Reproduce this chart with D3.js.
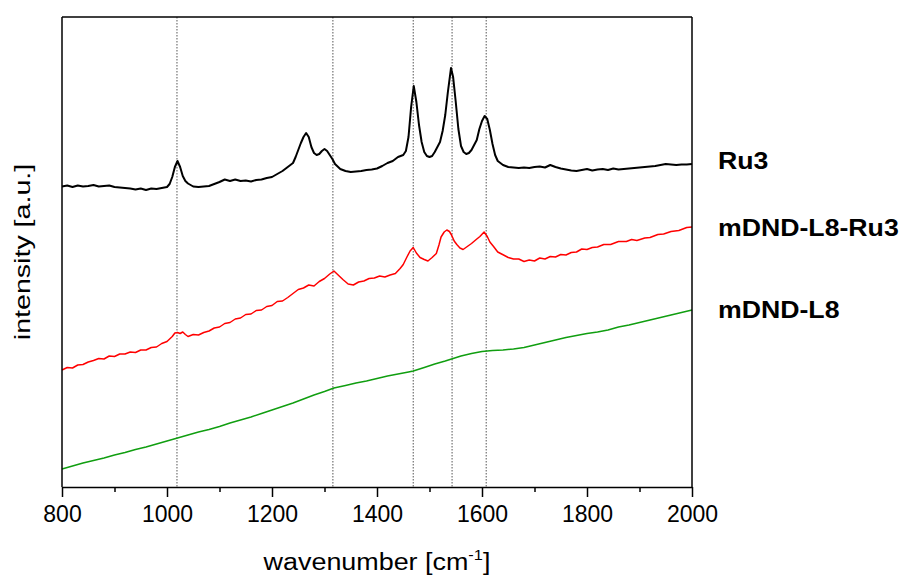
<!DOCTYPE html>
<html>
<head>
<meta charset="utf-8">
<script src="https://cdn.jsdelivr.net/npm/d3@7"></script>
<style>
  html, body { margin: 0; padding: 0; background: #fff; }
  svg { display: block; font-family: "Liberation Sans", Arial, sans-serif; }
</style>
</head>
<body>
<svg id="chart" width="905" height="577"></svg>
<script>
// Raman spectra: Ru3 complex, functionalised nanodiamond with and without Ru3
const seriesNames = ["Ru3", "mDND-L8-Ru3", "mDND-L8"];
const seriesColors = ["#000000", "#ff0000", "#109e10"];

// wavenumber [cm-1] / intensity [a.u.]
const ru3Wn = [800,810,820,830,840,850,860,870,880,890,900,910,920,930,940,950,960,970,980,990,
  1000,1005,1010,1015,1020,1025,1030,1035,1040,1050,1060,1070,1080,1090,1100,1110,1120,1130,1140,1150,
  1160,1170,1180,1190,1200,1210,1220,1230,1240,1245,1250,1255,1260,1265,1270,1275,1280,1285,1290,1295,
  1300,1305,1310,1315,1320,1330,1340,1350,1360,1370,1380,1390,1400,1410,1420,1430,1440,1450,1455,1460,
  1465,1470,1475,1480,1485,1490,1495,1500,1505,1510,1515,1520,1525,1530,1535,1541,1545,1550,1555,1560,
  1565,1570,1575,1580,1585,1590,1595,1600,1605,1610,1615,1620,1625,1630,1640,1650,1660,1670,1680,1690,
  1700,1710,1720,1730,1740,1750,1760,1770,1780,1790,1800,1810,1820,1830,1840,1850,1860,1870,1880,1890,
  1900,1910,1920,1930,1940,1950,1960,1970,1980,1990,2000];
const ru3Int = [300.5,301.5,300,301.5,300.5,301,302,300.5,301,301.5,300,299.5,299,298.5,297.5,298.5,297,298.5,298,299,
  300,303,310,320,326,320,311,306,303.5,300.5,300,300.5,301,303,305,307.5,306,307.5,306,306.5,
  305.5,307,307.5,309,310,313,316,320,324,330,337,344,350,354,350,340,334,332,333,336,
  338,336,332,328,323,318,316,315,315.5,316,317,317.5,318.5,321,324,326,330,332,336,350,
  380,401,385,362,345,335,331,330,331,335,340,345,356,372,395,419,410,385,358,341,
  335,333,334,337,342,347,358,366,371,368,357,343,332,326,322,320,319.5,319,319.5,319,
  320,320.5,319.5,322,320,318.5,317.5,316.5,316,317,318,316.5,317.5,318,317,318.5,317.5,318,318.5,319,
  319.5,320,320.5,321,322,323,322.5,322,322.5,322.5,323];

const redWn = [800,810,820,830,840,850,860,870,880,890,900,910,920,930,940,950,960,970,980,990,
  1000,1005,1010,1015,1020,1025,1030,1035,1040,1050,1060,1070,1080,1090,1100,1110,1120,1130,1140,1150,
  1160,1170,1180,1190,1200,1210,1220,1230,1240,1250,1260,1270,1280,1290,1300,1310,1318,1325,1335,1345,
  1355,1365,1375,1385,1395,1405,1415,1425,1435,1444,1450,1457,1463,1469,1475,1482,1490,1497,1505,1513,
  1518,1522,1528,1533,1538,1542,1547,1552,1558,1564,1572,1580,1589,1596,1604,1610,1615,1622,1630,1641,
  1650,1660,1670,1680,1690,1700,1710,1720,1730,1740,1750,1760,1770,1780,1790,1800,1810,1820,1832,1845,
  1860,1875,1885,1895,1910,1920,1935,1946,1960,1975,1990,2000];
const redInt = [117,119.5,119,122,122.5,125,126.5,128.5,128,131,130.5,133,133,135,134.5,137,137,139.5,140,143.5,
  145.5,148,150.5,154,154.5,153.5,155,152.5,150.5,152.5,152,154.5,156,159,160,163.5,164.5,168,169,172.5,
  173,176.5,177,180.5,181.5,185.5,186,189.5,193.5,197.5,199,202,201,205.5,208.5,213,216,212.5,207.5,203,
  202,205,206,208.5,209,211,210,212,213.5,218.5,222.5,230,236,239.5,234,229.5,227.5,226,229.5,233.5,
  242,250,255,257,255.5,252,246,242.5,239,237.5,240.5,243.5,247.5,250.5,255,250.5,245,240.5,235,232,
  229.5,228,228,225.5,227,226,229,228,230.5,230,232.5,232,234.5,235,238,237.5,239.5,240,242.5,242.5,
  245.5,245.5,247.5,246.5,249,249.5,252.5,253,255.5,256.5,259.5,260];

const greenWn = [800,820,840,860,880,900,920,940,960,980,1000,1020,1040,1060,1080,1100,1120,1140,1160,1180,
  1200,1220,1240,1260,1280,1300,1318,1340,1360,1380,1400,1420,1440,1460,1469,1490,1510,1530,1542,1560,
  1580,1600,1620,1640,1660,1680,1700,1720,1740,1760,1780,1800,1820,1840,1860,1880,1900,1920,1940,1960,
  1980,2000];
const greenInt = [18,21,24,26.5,29,32,34.5,37.5,40,43,46,49,52,55,57.5,60.5,64,67,70,73.5,
  77,80.5,84,88,92,95.5,99,101.5,104,106,108.5,111,113,115,116,119.5,123,126,128,131,
  133.5,135.5,136.5,137,138,139.5,142,144.5,147,149.5,151.5,153.5,155,157,160,162,164.5,167,169.5,172,
  174.5,177];

// band positions marked with dotted guides
const bandPositions = [1019, 1316, 1469, 1543, 1608];

const majorTicks = [800, 1000, 1200, 1400, 1600, 1800, 2000];
const minorTicks = [900, 1100, 1300, 1500, 1700, 1900];

const margin = { left: 62, right: 213, top: 17, bottom: 90 };
const W = 905, H = 577;
const innerW = W - margin.left - margin.right;
const innerH = H - margin.top - margin.bottom;

const svg = d3.select("#chart");
const g = svg.append("g").attr("transform", `translate(${margin.left},${margin.top})`);

const x = d3.scaleLinear().domain([800, 2000]).range([0, innerW]);
const y = d3.scaleLinear().domain([0, 470]).range([innerH, 0]);

// dotted guides
g.selectAll("line.band").data(bandPositions).join("line")
  .attr("class", "band")
  .attr("x1", d => x(d)).attr("x2", d => x(d))
  .attr("y1", 0).attr("y2", innerH)
  .attr("stroke", "#555").attr("stroke-width", 1)
  .attr("stroke-dasharray", "1.5,1.5");

// spectra
const series = [
  { wn: ru3Wn, val: ru3Int, width: 2 },
  { wn: redWn, val: redInt, width: 1.5 },
  { wn: greenWn, val: greenInt, width: 1.5 }
];
const line = d3.line().x(d => x(d[0])).y(d => y(d[1]));
series.forEach((s, i) => {
  g.append("path")
    .datum(s.wn.map((w, k) => [w, s.val[k]]))
    .attr("fill", "none")
    .attr("stroke", seriesColors[i])
    .attr("stroke-width", s.width)
    .attr("stroke-linejoin", "round")
    .attr("d", line);
});

// frame: top and right edges
g.append("line").attr("x1", 0).attr("x2", innerW).attr("y1", 0).attr("y2", 0)
  .attr("stroke", "#000").attr("stroke-width", 1.5);
g.append("line").attr("x1", innerW).attr("x2", innerW).attr("y1", 0).attr("y2", innerH)
  .attr("stroke", "#000").attr("stroke-width", 1.5);
// left axis line (no ticks)
g.append("line").attr("x1", 0).attr("x2", 0).attr("y1", 0).attr("y2", innerH)
  .attr("stroke", "#000").attr("stroke-width", 1.5);

// bottom axis: minor ticks then labelled major ticks
const minorAxis = g.append("g").attr("transform", `translate(0,${innerH})`)
  .call(d3.axisBottom(x).tickValues(minorTicks).tickSize(5).tickFormat(""));
minorAxis.select(".domain").remove();
minorAxis.selectAll("line").attr("stroke", "#000").attr("stroke-width", 1.5);

const xAxis = g.append("g").attr("transform", `translate(0,${innerH})`)
  .call(d3.axisBottom(x).tickValues(majorTicks).tickSize(10).tickPadding(9)
    .tickFormat(d3.format("d")).tickSizeOuter(0));
xAxis.select(".domain").attr("stroke", "#000").attr("stroke-width", 1.5);
xAxis.selectAll("line").attr("stroke", "#000").attr("stroke-width", 1.5);
xAxis.selectAll("text").attr("font-size", 23).attr("fill", "#000")
  .attr("font-family", "'Liberation Sans', Arial, sans-serif");

// axis titles
const xTitle = svg.append("text")
  .attr("transform", `translate(${margin.left + innerW / 2},570) scale(1.17,1)`)
  .attr("text-anchor", "middle").attr("font-size", 23).attr("fill", "#000");
xTitle.append("tspan").text("wavenumber [cm");
xTitle.append("tspan").attr("font-size", 14).attr("dy", -10).text("-1");
xTitle.append("tspan").attr("dy", 10).text("]");

svg.append("text")
  .attr("transform", `translate(30,${margin.top + innerH / 2}) rotate(-90) scale(1.3,1)`)
  .attr("text-anchor", "middle").attr("font-size", 22).attr("fill", "#000")
  .text("intensity [a.u.]");

// series labels at the right of the frame
const labelBaselines = [169, 236, 318];
seriesNames.forEach((name, i) => {
  svg.append("text")
    .attr("transform", `translate(718,${labelBaselines[i]}) scale(1.16,1)`)
    .attr("font-size", 23).attr("font-weight", "bold").attr("fill", "#000")
    .text(name);
});
</script>
</body>
</html>
